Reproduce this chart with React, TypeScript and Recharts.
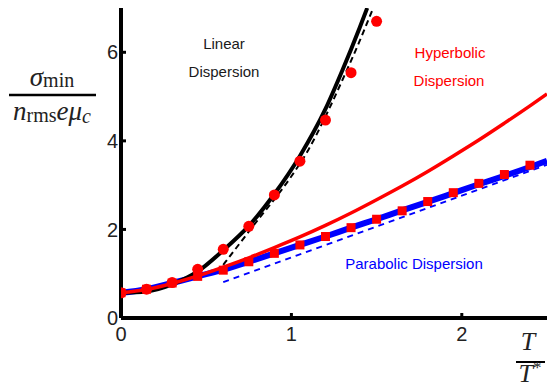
import { ComposedChart, Line, Scatter, XAxis, YAxis, Customized } from "recharts";

// T/T* sample positions for the markers
const markerX = [0, 0.15, 0.3, 0.45, 0.6, 0.75, 0.9, 1.05, 1.2, 1.35, 1.5, 1.65, 1.8, 1.95, 2.1, 2.25, 2.4];

// red circles (linear dispersion, numerics)
const circleY = [0.57, 0.65, 0.8, 1.1, 1.55, 2.07, 2.78, 3.54, 4.47, 5.54, 6.7];

// red squares (parabolic dispersion, numerics)
const squareY = [0.57, 0.65, 0.79, 0.94, 1.08, 1.27, 1.46, 1.65, 1.84, 2.04, 2.23, 2.42, 2.63, 2.83, 3.04, 3.24, 3.45];

// black solid curve
const linearX = [0, 0.15, 0.3, 0.45, 0.6, 0.75, 0.9, 1.05, 1.2, 1.3, 1.4, 1.445];
const linearY = [0.57, 0.6, 0.76, 1.05, 1.53, 2.08, 2.8, 3.66, 4.72, 5.6, 6.55, 7.0];

// black dashed asymptote
const linearAsymX = [0.6, 0.7, 0.8, 0.9, 1.0, 1.1, 1.2, 1.3, 1.4, 1.48];
const linearAsymY = [1.2, 1.7, 2.2, 2.68, 3.2, 3.8, 4.55, 5.38, 6.25, 7.0];

// red solid curve (hyperbolic)
const hyperX = [0, 0.15, 0.3, 0.45, 0.6, 0.75, 0.9, 1.05, 1.2, 1.35, 1.5, 1.65, 1.8, 1.95, 2.1, 2.25, 2.4, 2.5];
const hyperY = [0.57, 0.645, 0.78, 0.95, 1.15, 1.36, 1.59, 1.83, 2.09, 2.37, 2.67, 2.98, 3.31, 3.66, 4.02, 4.4, 4.79, 5.06];

// blue solid curve (parabolic)
const paraX = [0, 0.15, 0.3, 0.45, 0.6, 0.75, 0.9, 1.05, 1.2, 1.35, 1.5, 1.65, 1.8, 1.95, 2.1, 2.25, 2.4, 2.5];
const paraY = [0.57, 0.65, 0.79, 0.94, 1.09, 1.27, 1.46, 1.65, 1.84, 2.04, 2.23, 2.43, 2.62, 2.82, 3.02, 3.21, 3.41, 3.55];

// blue dashed asymptote
const paraAsymX = [0.6, 2.5];
const paraAsymY = [0.81, 3.46];

const xTicks = [0, 1, 2];
const yTicks = [0, 2, 4, 6];

const pairs = (xs: number[], ys: number[]) => ys.map((y, i) => ({ x: xs[i], y }));

const circles = pairs(markerX, circleY);
const squares = pairs(markerX, squareY);
const linear = pairs(linearX, linearY);
const linearAsym = pairs(linearAsymX, linearAsymY);
const hyper = pairs(hyperX, hyperY);
const para = pairs(paraX, paraY);
const paraAsym = pairs(paraAsymX, paraAsymY);

const tickFont = { fontSize: 20, fill: "#222", fontFamily: "Liberation Sans, Arial, sans-serif" };
const axisLine = { stroke: "#000", strokeWidth: 4 };
const tickLine = { stroke: "#000", strokeWidth: 3 };
const serif = "Liberation Serif, Times New Roman, serif";
const sans = "Liberation Sans, Arial, sans-serif";

function Labels() {
    return (
        <g>
            <text x={52} y={86} textAnchor="middle" fontFamily={serif} fill="#222">
                <tspan fontSize={27} fontStyle="italic">σ</tspan>
                <tspan fontSize={20} dy={1}>min</tspan>
            </text>
            <line x1={9} x2={96} y1={95} y2={95} stroke="#000" strokeWidth={2.5} />
            <text x={52} y={120} textAnchor="middle" fontFamily={serif} fill="#222">
                <tspan fontSize={27} fontStyle="italic">n</tspan>
                <tspan fontSize={20} dy={2}>rms</tspan>
                <tspan fontSize={27} fontStyle="italic" dy={-2}>eμ</tspan>
                <tspan fontSize={20} fontStyle="italic" dy={3}>c</tspan>
            </text>

            <text x={528} y={350} textAnchor="middle" fontFamily={serif} fontSize={26} fontStyle="italic" fill="#222">T</text>
            <line x1={516} x2={545} y1={362} y2={362} stroke="#000" strokeWidth={2} />
            <text x={530} y={382} textAnchor="middle" fontFamily={serif} fill="#222">
                <tspan fontSize={26} fontStyle="italic">T</tspan>
                <tspan fontSize={17} dy={-9}>*</tspan>
            </text>

            <text x={224} y={49} textAnchor="middle" fontFamily={sans} fontSize={15} fill="#1a1a1a">Linear</text>
            <text x={224} y={77} textAnchor="middle" fontFamily={sans} fontSize={15} fill="#1a1a1a">Dispersion</text>
            <text x={450} y={58} textAnchor="middle" fontFamily={sans} fontSize={15} fill="#ff0000">Hyperbolic</text>
            <text x={449} y={86} textAnchor="middle" fontFamily={sans} fontSize={15} fill="#ff0000">Dispersion</text>
            <text x={414} y={269} textAnchor="middle" fontFamily={sans} fontSize={15} fill="#0000ff">Parabolic Dispersion</text>
        </g>
    );
}

const Circle = (p: any) => <circle cx={p.cx} cy={p.cy} r={5.5} fill="#ff0000" />;
const Square = (p: any) => <rect x={p.cx - 4.5} y={p.cy - 4.5} width={9} height={9} fill="#ff0000" />;

export default function App() {
    return (
        <div style={{ position: "absolute", left: 0, top: 0, background: "#fff" }}>
            <ComposedChart width={549} height={385} margin={{ top: 8, right: 2, bottom: 0, left: 0 }}>
                <XAxis
                    xAxisId="b"
                    type="number"
                    dataKey="x"
                    domain={[0, 2.5]}
                    ticks={xTicks}
                    allowDataOverflow
                    height={67}
                    axisLine={axisLine}
                    tickLine={tickLine}
                    tickSize={-5}
                    tickMargin={14}
                    tick={tickFont}
                />
                <XAxis
                    xAxisId="t"
                    orientation="top"
                    type="number"
                    dataKey="x"
                    domain={[0, 2.5]}
                    ticks={xTicks}
                    allowDataOverflow
                    height={0}
                    axisLine={axisLine}
                    tickLine={tickLine}
                    tickSize={-5}
                    tickFormatter={() => ""}
                />
                <YAxis
                    yAxisId="l"
                    type="number"
                    dataKey="y"
                    domain={[0, 7]}
                    ticks={yTicks}
                    allowDataOverflow
                    width={121}
                    axisLine={axisLine}
                    tickLine={tickLine}
                    tickSize={-5}
                    tickMargin={8}
                    tick={tickFont}
                />
                <YAxis
                    yAxisId="r"
                    orientation="right"
                    type="number"
                    dataKey="y"
                    domain={[0, 7]}
                    ticks={yTicks}
                    allowDataOverflow
                    width={0}
                    axisLine={axisLine}
                    tickLine={tickLine}
                    tickSize={-5}
                    tickFormatter={() => ""}
                />
                <Line xAxisId="b" yAxisId="l" data={paraAsym} dataKey="y" type="linear" stroke="#0000ff" strokeWidth={2} strokeDasharray="6 5" dot={false} isAnimationActive={false} />
                <Line xAxisId="b" yAxisId="l" data={para} dataKey="y" type="monotone" stroke="#0000ff" strokeWidth={6} dot={false} isAnimationActive={false} />
                <Line xAxisId="b" yAxisId="l" data={linearAsym} dataKey="y" type="monotone" stroke="#000" strokeWidth={2} strokeDasharray="6 4" dot={false} isAnimationActive={false} />
                <Line xAxisId="b" yAxisId="l" data={linear} dataKey="y" type="monotone" stroke="#000" strokeWidth={4} dot={false} isAnimationActive={false} />
                <Line xAxisId="b" yAxisId="l" data={hyper} dataKey="y" type="monotone" stroke="#ff0000" strokeWidth={3.5} dot={false} isAnimationActive={false} />
                <Scatter xAxisId="b" yAxisId="l" data={squares} dataKey="y" shape={Square} isAnimationActive={false} />
                <Scatter xAxisId="b" yAxisId="l" data={circles} dataKey="y" shape={Circle} isAnimationActive={false} />
                <Customized component={Labels} />
            </ComposedChart>
        </div>
    );
}
